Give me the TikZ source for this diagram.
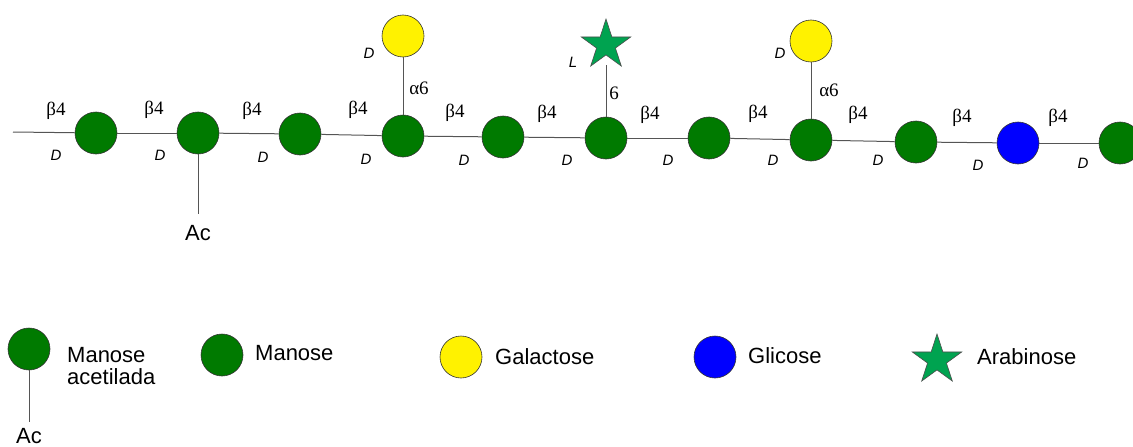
\documentclass[tikz,border=0pt]{standalone}
\usepackage{fontspec}
\setmainfont{Liberation Sans}
\newfontfamily\serifgr{Liberation Serif}
\usetikzlibrary{shapes.geometric}
\definecolor{mangreen}{RGB}{0,122,0}
\definecolor{arabgreen}{RGB}{0,163,80}
\definecolor{linkgray}{RGB}{85,85,85}
\tikzset{
  sugar/.style={circle, draw=black!80, line width=0.6pt, minimum size=42pt, inner sep=0pt},
  man/.style={sugar, fill=mangreen},
  gal/.style={sugar, fill=yellow},
  glc/.style={sugar, fill=blue},
  ara/.style={star, star points=5, star point ratio=2.618, draw=black!70, line width=0.6pt, fill=arabgreen, minimum size=52pt, inner sep=0pt},
  link/.style={draw=linkgray, line width=1pt},
  bond/.style={font=\serifgr\fontsize{19}{19}\selectfont, inner sep=0pt},
  conf/.style={font=\itshape\fontsize{15}{15}\selectfont, inner sep=0pt},
  lbl/.style={font=\fontsize{22}{22}\selectfont, inner sep=0pt},
}
\begin{document}
\begin{tikzpicture}[x=1pt,y=-1pt]
\useasboundingbox (0,0) rectangle (1133,447);
% main chain
\coordinate (start) at (13,132);
\node[man] (c1) at (96,133) {};
\node[man] (c2) at (198,133) {};
\node[man] (c3) at (300,134) {};
\node[man] (c4) at (403,136) {};
\node[man] (c5) at (503,137) {};
\node[man] (c6) at (606,138) {};
\node[man] (c7) at (709,138) {};
\node[man] (c8) at (811,140) {};
\node[man] (c9) at (916,142) {};
\node[glc] (c10) at (1018,143) {};
\node[man] (c11) at (1120,143) {};
\draw[link] (start) -- (c1);
\draw[link] (c1) -- (c2);
\draw[link] (c2) -- (c3);
\draw[link] (c3) -- (c4);
\draw[link] (c4) -- (c5);
\draw[link] (c5) -- (c6);
\draw[link] (c6) -- (c7);
\draw[link] (c7) -- (c8);
\draw[link] (c8) -- (c9);
\draw[link] (c9) -- (c10);
\draw[link] (c10) -- (c11);
% branches
\node[gal] (g1) at (403,36) {};
\node[gal] (g2) at (811,41) {};
\node[ara] (s1) at (606,45) {};
\draw[link] (g1) -- (c4);
\draw[link] (g2) -- (c8);
\draw[link] (s1.center |- 0,65) coordinate (s1b) -- (c6);
\coordinate (acend) at (198,214);
\draw[link] (c2) -- (acend);
\node[lbl] (ac1) at (198,233) {Ac};
% bond labels
\foreach \x/\y in {56/111,154/110,252/111,358/110,455/113,547/114,650/115,758/114,858/115,962/118,1058/118}
  \node[bond] at (\x,\y) {β4};
\foreach \x/\y in {56/155,160/155,263/157,366/159,464/160,567/160,668/160,773/160,878/160,978/165,1083/163}
  \node[conf] at (\x,\y) {D};
\node[bond] (a61) at (419,88) {α6};
\node[bond] (a62) at (829,90) {α6};
\node[bond] (six) at (614,93) {6};
\node[conf] (dg1) at (369,53) {D};
\node[conf] (dg2) at (780,53) {D};
\node[conf] (ll) at (573,62) {L};
% legend
\node[man] (la) at (29,349) {};
\coordinate (laend) at (29,422);
\draw[link] (la) -- (laend);
\node[lbl] (ac2) at (29,436) {Ac};
\node[lbl, anchor=west, align=left] (tla) at (67,366) {Manose\\acetilada};
\node[man] (lm) at (222,355) {};
\node[lbl, anchor=west] (tlm) at (255,353) {Manose};
\node[gal] (lg) at (461,357) {};
\node[lbl, anchor=west] (tlg) at (495,357) {Galactose};
\node[glc] (lc) at (715,357) {};
\node[lbl, anchor=west] (tlc) at (748,356) {Glicose};
\node[ara] (ls) at (937,360) {};
\node[lbl, anchor=west] (tls) at (977,357) {Arabinose};
\end{tikzpicture}
\end{document}
